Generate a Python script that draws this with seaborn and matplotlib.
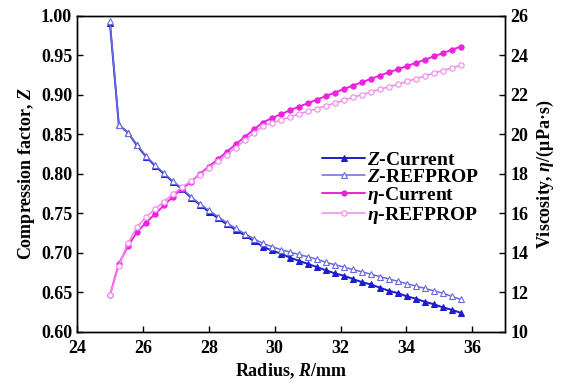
import matplotlib
matplotlib.use("Agg")
import matplotlib.pyplot as plt
import seaborn as sns
import pandas as pd

radius = [25.00, 25.27, 25.55, 25.82, 26.09, 26.37, 26.64, 26.91, 27.18, 27.46,
          27.73, 28.00, 28.28, 28.55, 28.82, 29.10, 29.37, 29.64, 29.91, 30.19,
          30.46, 30.73, 31.01, 31.28, 31.55, 31.83, 32.10, 32.37, 32.64, 32.92,
          33.19, 33.46, 33.74, 34.01, 34.28, 34.56, 34.83, 35.10, 35.37, 35.65]

z_current = [0.991, 0.862, 0.852, 0.836, 0.822, 0.810, 0.800, 0.790, 0.781, 0.770,
             0.761, 0.752, 0.744, 0.736, 0.729, 0.722, 0.715, 0.708, 0.703, 0.699,
             0.694, 0.690, 0.686, 0.682, 0.678, 0.674, 0.671, 0.667, 0.663, 0.660,
             0.656, 0.652, 0.649, 0.645, 0.642, 0.638, 0.635, 0.631, 0.628, 0.624]

z_refprop = [0.993, 0.862, 0.852, 0.837, 0.823, 0.811, 0.801, 0.791, 0.782, 0.771,
             0.762, 0.754, 0.746, 0.738, 0.731, 0.724, 0.718, 0.712, 0.708, 0.704,
             0.701, 0.698, 0.695, 0.692, 0.688, 0.685, 0.682, 0.679, 0.676, 0.673,
             0.670, 0.667, 0.664, 0.661, 0.658, 0.655, 0.652, 0.649, 0.645, 0.641]

eta_current = [11.85, 13.45, 14.35, 15.05, 15.52, 15.97, 16.40, 16.85, 17.23, 17.60,
               18.00, 18.37, 18.75, 19.12, 19.50, 19.88, 20.25, 20.60, 20.82, 21.02,
               21.22, 21.40, 21.58, 21.76, 21.94, 22.12, 22.30, 22.47, 22.64, 22.81,
               22.98, 23.14, 23.30, 23.46, 23.62, 23.78, 23.95, 24.11, 24.28, 24.45]

eta_refprop = [11.85, 13.35, 14.50, 15.30, 15.82, 16.22, 16.60, 16.98, 17.32, 17.64,
               17.96, 18.30, 18.64, 18.98, 19.33, 19.70, 20.07, 20.42, 20.58, 20.73,
               20.88, 21.03, 21.17, 21.31, 21.45, 21.59, 21.73, 21.87, 22.01, 22.15,
               22.28, 22.41, 22.54, 22.68, 22.82, 22.96, 23.10, 23.23, 23.36, 23.50]

x_ticks = [24, 26, 28, 30, 32, 34, 36]
z_ticks = [0.60, 0.65, 0.70, 0.75, 0.80, 0.85, 0.90, 0.95, 1.00]
eta_ticks = [10, 12, 14, 16, 18, 20, 22, 24, 26]

labels = ["$Z$-Current", "$Z$-REFPROP", "$\\eta$-Current", "$\\eta$-REFPROP"]

sns.set_style("ticks")
plt.rcParams["font.family"] = ["Liberation Serif", "DejaVu Serif"]
plt.rcParams["font.weight"] = "bold"
plt.rcParams["axes.labelweight"] = "bold"
plt.rcParams["text.color"] = "black"
plt.rcParams["axes.labelcolor"] = "black"
plt.rcParams["xtick.color"] = "black"
plt.rcParams["ytick.color"] = "black"
plt.rcParams["mathtext.fontset"] = "custom"
plt.rcParams["mathtext.it"] = "Liberation Serif:italic:bold"
plt.rcParams["mathtext.rm"] = "Liberation Serif:bold"
plt.rcParams["mathtext.bf"] = "Liberation Serif:bold"

df = pd.DataFrame({"R": radius, "Zc": z_current, "Zr": z_refprop,
                   "Ec": eta_current, "Er": eta_refprop})

fig = plt.figure(figsize=(5.62, 3.89), dpi=100)
ax = fig.add_axes([0.137, 0.147, 0.762, 0.812])
ax2 = ax.twinx()

c_zc = "#1c1cd0"
c_zr = "#6a6ae0"
c_ec = "#ee22dd"
c_er = "#f288ee"
ms = 3.8

sns.lineplot(data=df, x="R", y="Zc", ax=ax, color=c_zc, lw=1.4, marker="^",
             markersize=ms, markerfacecolor=c_zc, markeredgecolor=c_zc,
             label=labels[0], legend=False)
sns.lineplot(data=df, x="R", y="Zr", ax=ax, color=c_zr, lw=1.1, marker="^",
             markersize=ms, markerfacecolor="white", markeredgecolor=c_zr,
             markeredgewidth=0.8, label=labels[1], legend=False)
sns.lineplot(data=df, x="R", y="Ec", ax=ax2, color=c_ec, lw=1.4, marker="o",
             markersize=ms, markerfacecolor=c_ec, markeredgecolor=c_ec,
             label=labels[2], legend=False)
sns.lineplot(data=df, x="R", y="Er", ax=ax2, color=c_er, lw=1.1, marker="o",
             markersize=ms, markerfacecolor="white", markeredgecolor=c_er,
             markeredgewidth=0.8, label=labels[3], legend=False)

ax.set_xlim(24, 37)
ax.set_ylim(0.60, 1.00)
ax2.set_ylim(10, 26)
ax.set_xticks(x_ticks)
ax.set_xticklabels([str(t) for t in x_ticks])
ax.set_yticks(z_ticks)
ax.set_yticklabels([f"{t:.2f}" for t in z_ticks])
ax2.set_yticks(eta_ticks)
ax2.set_yticklabels([str(t) for t in eta_ticks])

for a in (ax, ax2):
    a.tick_params(direction="in", length=4, width=1, labelsize=13, colors="black")
    for s in a.spines.values():
        s.set_linewidth(1.0)
        s.set_color("black")
ax.tick_params(axis="x", pad=6)

ax.set_xlabel("Radius, $R$/mm", fontsize=13, fontweight="bold", labelpad=3)
ax.set_ylabel("Compression factor, $Z$", fontsize=13, fontweight="bold", labelpad=3)
ax2.set_ylabel("Viscosity, $\\eta$/(μPa·s)", fontsize=13, fontweight="bold", labelpad=5)

h1, l1 = ax.get_legend_handles_labels()
h2, l2 = ax2.get_legend_handles_labels()
ax2.legend(h1 + h2, l1 + l2, loc="upper left", bbox_to_anchor=(0.555, 0.595),
           frameon=False, fontsize=14, handlelength=2.2, handletextpad=0.1,
           labelspacing=-0.05, borderaxespad=0.0)

fig.savefig("out.png", dpi=100)
